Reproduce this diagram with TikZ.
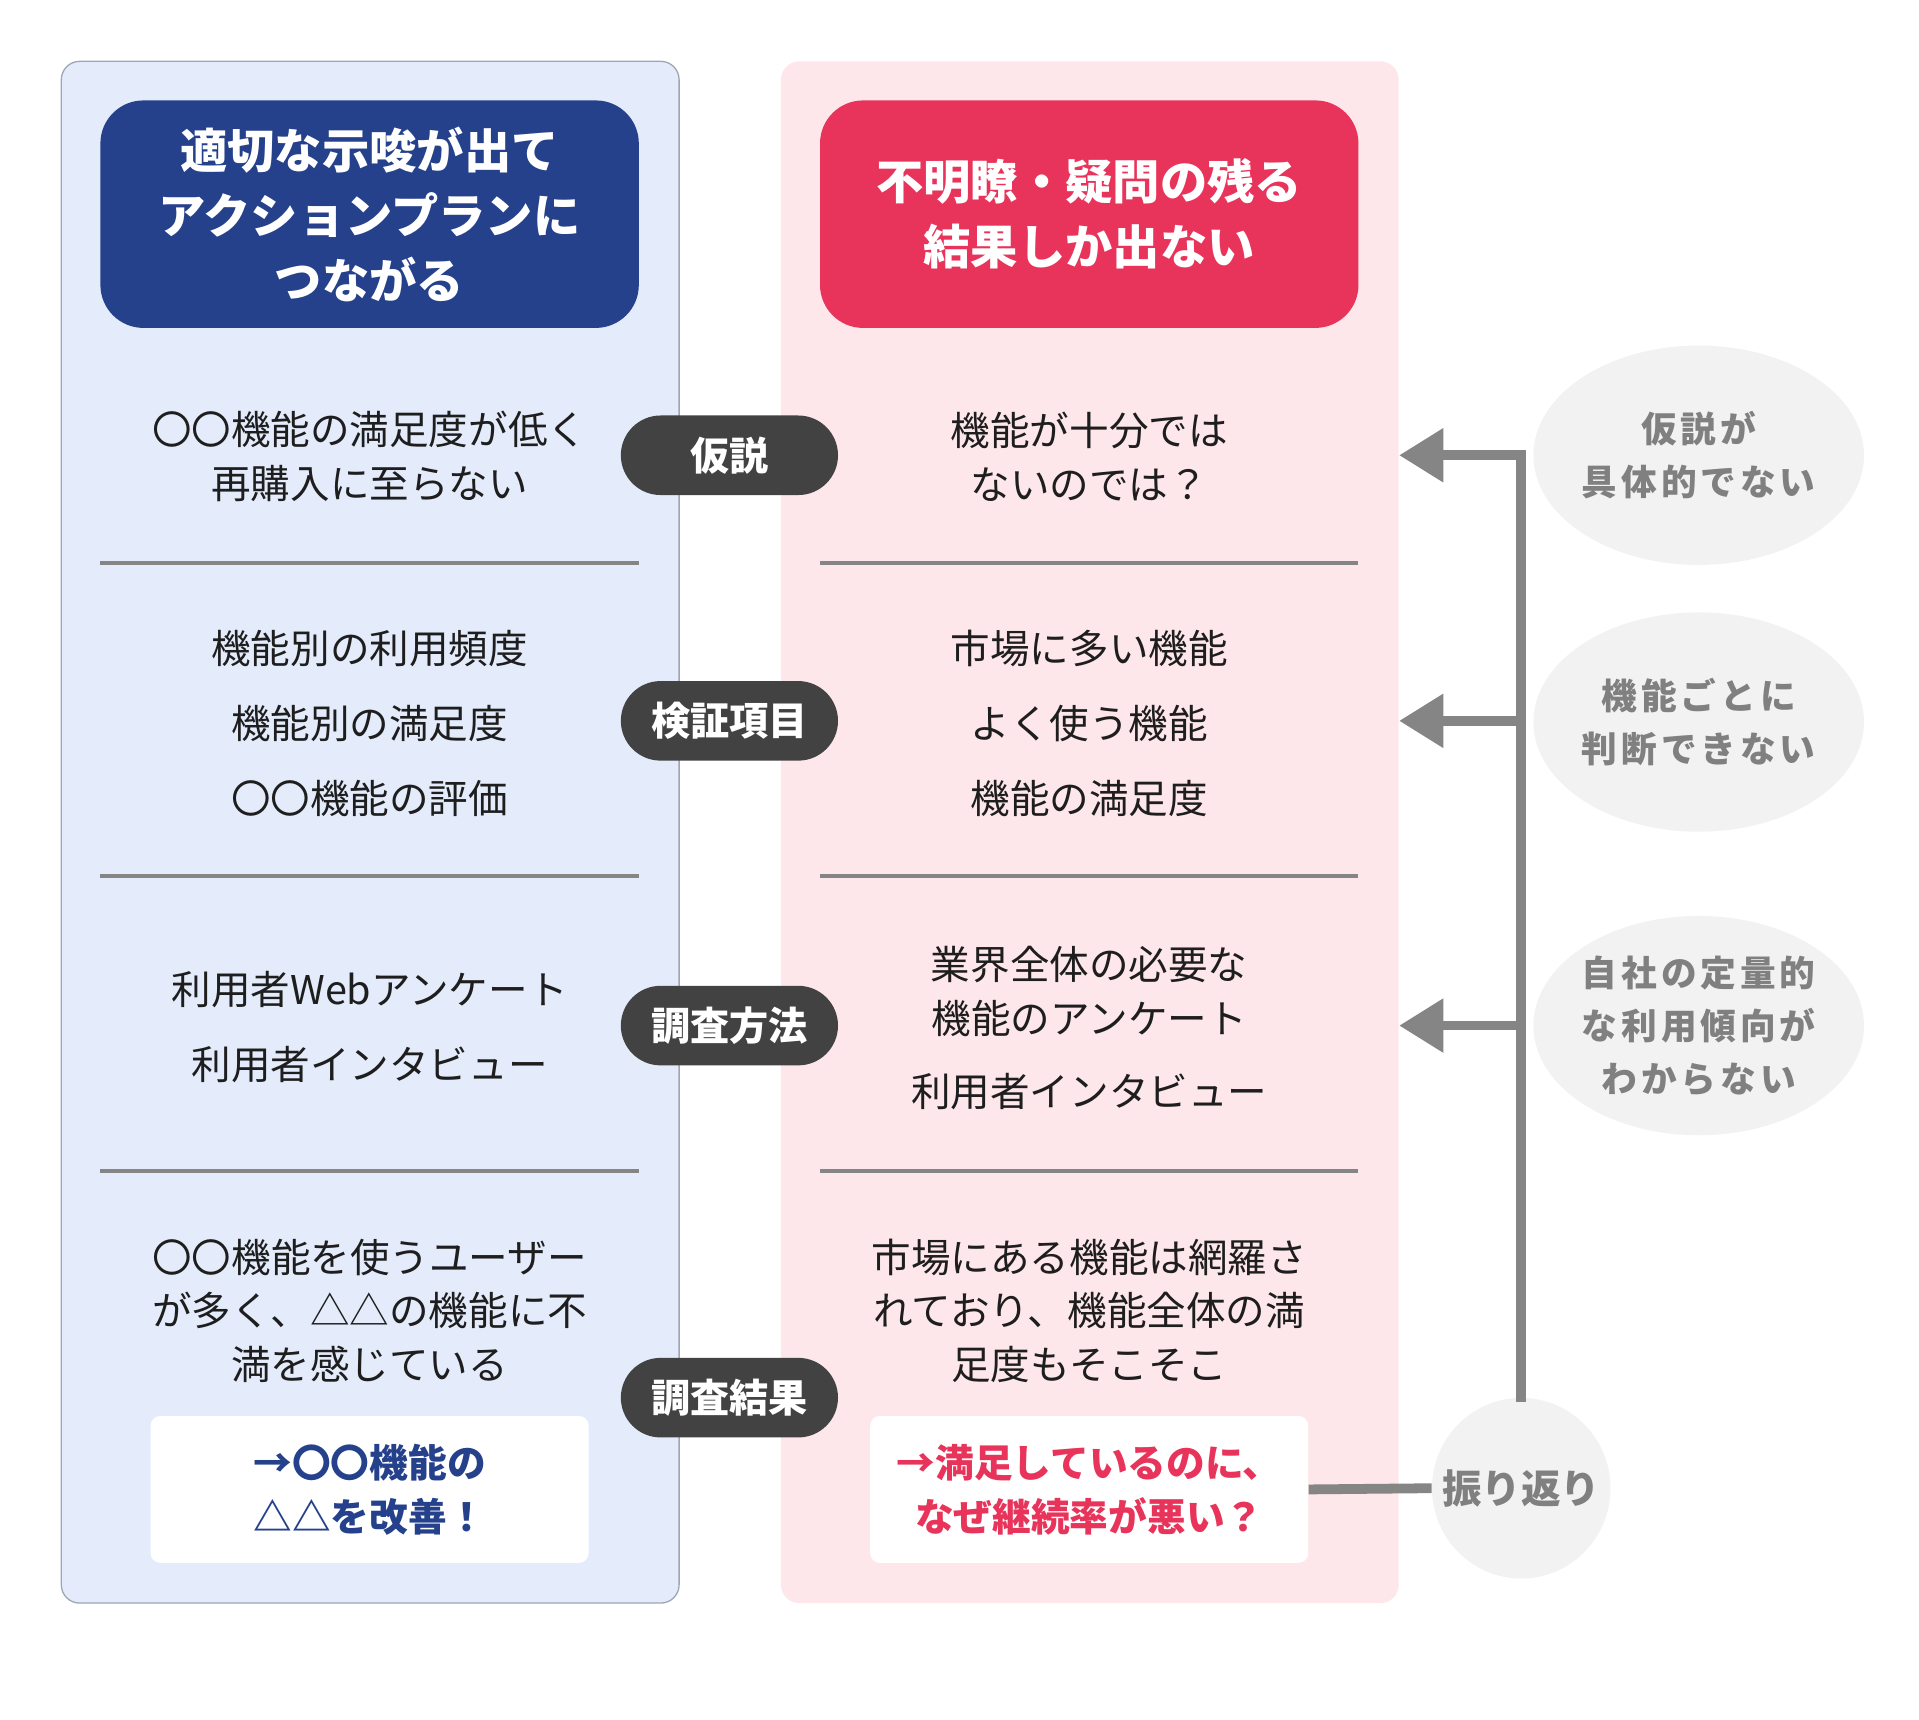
\documentclass[tikz,border=0pt]{standalone}
\usepackage{fontspec}
\setmainfont{Noto Sans CJK JP}
\usetikzlibrary{arrows.meta,shapes.geometric}

\definecolor{panelblue}{HTML}{E4ECFC}
\definecolor{panelborder}{HTML}{9EA6B6}
\definecolor{panelpink}{HTML}{FDE7EB}
\definecolor{hdrblue}{HTML}{25418C}
\definecolor{hdrred}{HTML}{E8345A}
\definecolor{badgegray}{HTML}{424242}
\definecolor{linegray}{HTML}{858585}
\definecolor{ovalfill}{HTML}{F2F2F2}
\definecolor{ovaltext}{HTML}{808080}
\definecolor{bodytext}{HTML}{1E1E1E}

\tikzset{
  panel/.style={rectangle, rounded corners=8.5pt, minimum width=287.3pt, minimum height=717pt, inner sep=0pt},
  header/.style={rectangle, rounded corners=20pt, minimum width=250.4pt, minimum height=105.8pt,
    align=center, text=white, font=\fontsize{22}{30.2}\selectfont\bfseries},
  body/.style={align=center, text=bodytext, inner sep=0pt, font=\fontsize{18.4}{25}\selectfont},
  badge/.style={rectangle, rounded corners=18.5pt, fill=badgegray, minimum width=101pt, minimum height=37pt,
    inner sep=0pt, text=white, font=\fontsize{18.2}{20}\selectfont\bfseries},
  whitebox/.style={rectangle, rounded corners=4.5pt, fill=white, minimum width=203.7pt, minimum height=68.3pt,
    align=center, font=\fontsize{18}{25}\selectfont\bfseries},
  oval/.style={ellipse, fill=ovalfill, minimum width=149pt, minimum height=102pt, inner sep=0pt,
    align=center, text=ovaltext, font=\fontsize{16.6}{24.6}\selectfont\bfseries\addfontfeature{LetterSpace=11}},
  ovallabel/.style={inner sep=0pt, text=ovaltext, font=\fontsize{18.4}{25}\selectfont\bfseries},
  sepline/.style={draw=linegray, line width=1.7pt},
  fbline/.style={draw=linegray, line width=4.55pt},
  fbarrow/.style={fbline, -{Triangle[length=20.5pt, width=24pt]}},
}

\begin{document}
\begin{tikzpicture}[x=0.02cm, y=-0.02cm]
\useasboundingbox (0,0) rectangle (1568,1405);

%% panels
\node[panel, fill=panelblue, draw=panelborder, line width=0.6pt] (lpanel) at (302.5,680) {};
\node[panel, fill=panelpink] (rpanel) at (890.5,680) {};

%% headers
\node[header, fill=hdrblue] (lhead) at (302,175) {適切な示唆が出て\\アクションプランに\\つながる};
\node[header, fill=hdrred]  (rhead) at (890,175) {不明瞭・疑問の残る\\結果しか出ない};

%% separators
\draw[sepline] (82,460) -- (522,460);
\draw[sepline] (670,460) -- (1110,460);
\draw[sepline] (82,716) -- (522,716);
\draw[sepline] (670,716) -- (1110,716);
\draw[sepline] (82,957) -- (522,957);
\draw[sepline] (670,957) -- (1110,957);

%% hypothesis
\node[body] (hypl) at (302,373) {〇〇機能の満足度が低く\\再購入に至らない};
\node[body] (hypr) at (890,373) {機能が十分では\\ないのでは？};

%% items
\node[body] (iteml) at (302,591) {機能別の利用頻度\\[10pt]機能別の満足度\\[10pt]〇〇機能の評価};
\node[body] (itemr) at (890,591) {市場に多い機能\\[10pt]よく使う機能\\[10pt]機能の満足度};

%% method
\node[body] (methl) at (302,839) {利用者Webアンケート\\[10pt]利用者インタビュー};
\node[body] (methr) at (890,840) {業界全体の必要な\\機能のアンケート\\[9pt]利用者インタビュー};

%% result
\node[body] (resl) at (302,1071) {〇〇機能を使うユーザー\\が多く、△△の機能に不\\満を感じている};
\node[body] (resr) at (890,1071) {市場にある機能は網羅さ\\れており、機能全体の満\\足度もそこそこ};
\node[whitebox, text=hdrblue] (lbox) at (302,1217) {→〇〇機能の\\△△を改善！};
\node[whitebox, text=hdrred]  (rbox) at (890,1217) {→満足しているのに、\\なぜ継続率が悪い？};

%% badges
\node[badge] (b1) at (596,372)  {仮説};
\node[badge] (b2) at (596,589)  {検証項目};
\node[badge] (b3) at (596,838)  {調査方法};
\node[badge] (b4) at (596,1142) {調査結果};

%% review
\node[oval] (o1) at (1388,372) {仮説が\\具体的でない};
\node[oval] (o2) at (1388,590) {機能ごとに\\判断できない};
\node[oval] (o3) at (1388,838) {自社の定量的\\な利用傾向が\\わからない};
\node[oval, minimum width=83pt, minimum height=84pt, label={[ovallabel]center:振り返り}] (review) at (1243,1216) {};

\draw[fbline, line cap=rect] (review.north) -- (review.north |- b1);
\draw[fbarrow] (review.north |- b1) -- (rpanel.east |- b1);
\draw[fbarrow] (review.north |- b2) -- (rpanel.east |- b2);
\draw[fbarrow] (review.north |- b3) -- (rpanel.east |- b3);
\draw[fbline] (rbox.east) -- (review.west);

\end{tikzpicture}
\end{document}
